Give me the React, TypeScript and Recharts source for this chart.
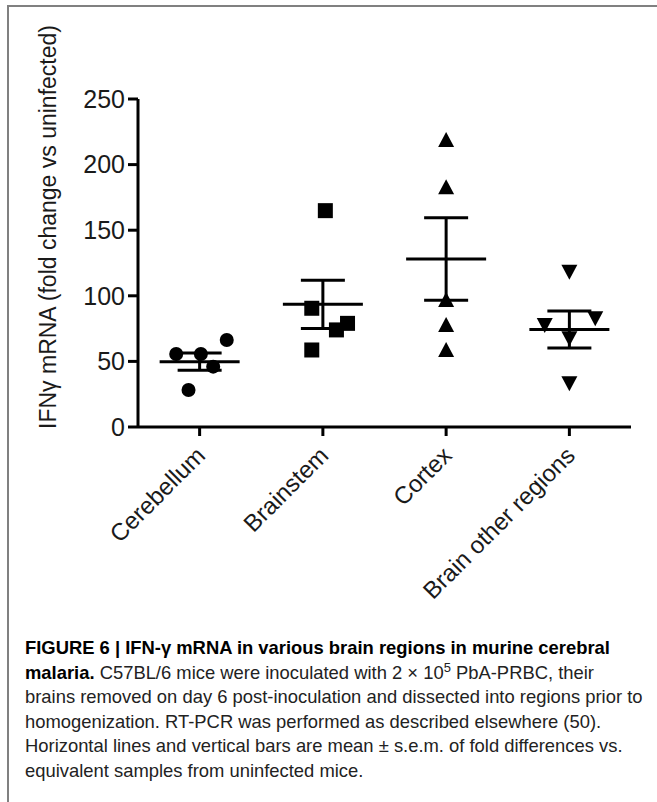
import React from "react";
import { ScatterChart, Scatter, XAxis, YAxis, ErrorBar, Label } from "recharts";

const categories = ["Cerebellum", "Brainstem", "Cortex", "Brain other regions"];
const yTicks = [0, 50, 100, 150, 200, 250];

// individual animals (fold change) and their horizontal jitter
const cerebellum = [55.6, 55.6, 66.3, 46, 28.2];
const cerebellumJitter = [-0.19, 0.01, 0.22, 0.11, -0.09];
const brainstem = [164.9, 90.5, 74, 79, 58.7];
const brainstemJitter = [0.02, -0.09, 0.11, 0.2, -0.09];
const cortex = [218.8, 182.7, 96.8, 77.7, 58.7];
const cortexJitter = [0, 0, 0, 0, 0];
const otherRegions = [118.4, 77.7, 82.8, 67.6, 33.3];
const otherJitter = [0, -0.2, 0.21, 0, 0];

const means = [49.8, 93.5, 128, 74.4];
const sems = [6.6, 18.4, 31.4, 14.1];

const toPoints = (vals: number[], jitter: number[], idx: number) =>
  vals.map((v, i) => ({ x: idx + jitter[i], y: v }));

const meanData = means.map((m, i) => ({ x: i, y: m, err: sems[i] }));

const FONT = "'Liberation Sans', Arial, Helvetica, sans-serif";

const Dot = (p: any) => <circle cx={p.cx} cy={p.cy} r={7} fill="#000" />;
const Square = (p: any) => <rect x={p.cx - 7.5} y={p.cy - 7.5} width={15} height={15} fill="#000" />;
const TriUp = (p: any) => (
  <path d={`M${p.cx},${p.cy - 8} L${p.cx + 8},${p.cy + 7} L${p.cx - 8},${p.cy + 7} Z`} fill="#000" />
);
const TriDown = (p: any) => (
  <path d={`M${p.cx},${p.cy + 8} L${p.cx + 8},${p.cy - 7} L${p.cx - 8},${p.cy - 7} Z`} fill="#000" />
);
const MeanLine = (p: any) => (
  <line x1={p.cx - 40} x2={p.cx + 40} y1={p.cy} y2={p.cy} stroke="#000" strokeWidth={3} />
);

const CatTick = (props: any) => {
  const { x, y, payload } = props;
  const ax = x + 7;
  const ay = y + 19;
  return (
    <text
      x={ax}
      y={ay}
      textAnchor="end"
      transform={`rotate(-45, ${ax}, ${ay})`}
      fontSize={24}
      fontFamily={FONT}
      fill="#1a1a1a"
    >
      {categories[payload.value]}
    </text>
  );
};

const YLabel = () => (
  <text
    x={48}
    y={227}
    transform="rotate(-90, 48, 227)"
    textAnchor="middle"
    dominantBaseline="central"
    fontSize={23}
    fontFamily={FONT}
    fill="#1a1a1a"
  >
    IFNγ mRNA (fold change vs uninfected)
  </text>
);

export default function App() {
  return (
    <div
      style={{
        position: "absolute",
        left: 0,
        top: 0,
        width: 657,
        height: 802,
        background: "#fff",
        overflow: "hidden",
        fontFamily: FONT,
      }}
    >
      <div
        style={{
          position: "absolute",
          left: 7,
          top: 5,
          width: 700,
          height: 900,
          borderLeft: "2px solid #808080",
          borderTop: "2px solid #808080",
        }}
      />
      <div style={{ position: "absolute", left: 0, top: 0 }}>
        <ScatterChart width={657} height={620} margin={{ top: 99, right: 26, bottom: 43, left: 8 }}>
          <XAxis
            type="number"
            dataKey="x"
            domain={[-0.5, 3.5]}
            ticks={[0, 1, 2, 3]}
            allowDataOverflow
            height={150}
            tickSize={9}
            axisLine={{ stroke: "#000", strokeWidth: 3 }}
            tickLine={{ stroke: "#000", strokeWidth: 3 }}
            tick={<CatTick />}
            interval={0}
          />
          <YAxis
            type="number"
            dataKey="y"
            domain={[0, 250]}
            ticks={yTicks}
            width={130}
            tickSize={10}
            tickMargin={3}
            axisLine={{ stroke: "#000", strokeWidth: 3 }}
            tickLine={{ stroke: "#000", strokeWidth: 3 }}
            tick={{ fontSize: 25, fontFamily: FONT, fill: "#1a1a1a" }}
          >
            <Label content={<YLabel />} />
          </YAxis>
          <Scatter data={toPoints(cerebellum, cerebellumJitter, 0)} shape={<Dot />} isAnimationActive={false} />
          <Scatter data={toPoints(brainstem, brainstemJitter, 1)} shape={<Square />} isAnimationActive={false} />
          <Scatter data={toPoints(cortex, cortexJitter, 2)} shape={<TriUp />} isAnimationActive={false} />
          <Scatter data={toPoints(otherRegions, otherJitter, 3)} shape={<TriDown />} isAnimationActive={false} />
          <Scatter data={meanData} shape={<MeanLine />} isAnimationActive={false}>
            <ErrorBar dataKey="err" direction="y" width={22} stroke="#000" strokeWidth={3} />
          </Scatter>
        </ScatterChart>
      </div>
      <div
        style={{
          position: "absolute",
          left: 25,
          top: 636,
          fontSize: 18.4,
          lineHeight: "24.6px",
          color: "#222",
          whiteSpace: "nowrap",
        }}
      >
        <div style={{ fontWeight: "bold", color: "#000" }}>
          FIGURE 6 | IFN-γ mRNA in various brain regions in murine cerebral
        </div>
        <div>
          <b style={{ color: "#000" }}>malaria.</b> C57BL/6 mice were inoculated with 2 × 10
          <sup style={{ fontSize: 13, lineHeight: 0 }}>5</sup> PbA-PRBC, their
        </div>
        <div>brains removed on day 6 post-inoculation and dissected into regions prior to</div>
        <div>homogenization. RT-PCR was performed as described elsewhere (50).</div>
        <div>Horizontal lines and vertical bars are mean ± s.e.m. of fold differences vs.</div>
        <div>equivalent samples from uninfected mice.</div>
      </div>
    </div>
  );
}
